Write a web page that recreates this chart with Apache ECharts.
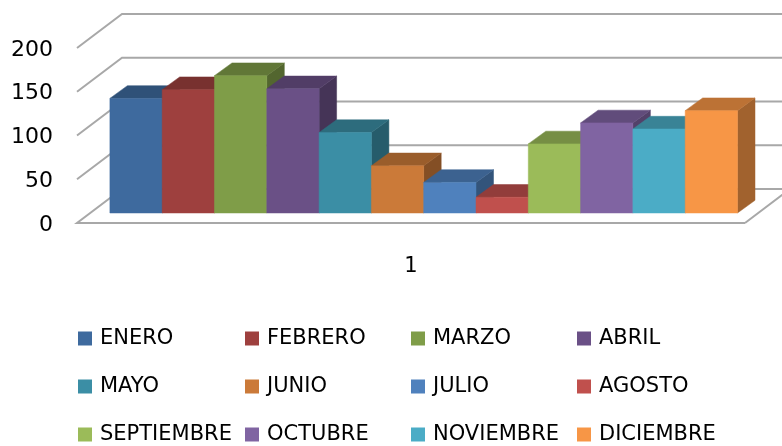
<!DOCTYPE html>
<html lang="es">
<head>
    <meta charset="UTF-8">
    <title>Meses</title>
    <script src="https://cdn.jsdelivr.net/npm/echarts@6/dist/echarts.min.js"></script>
    <style>html,body{margin:0;padding:0;background:#fff}</style>
</head>
<body>
    <div id="main" style="width:782px;height:446px;"></div>
    <script type="text/javascript">
        var categories = ['1'];
        var months = ['ENERO','FEBRERO','MARZO','ABRIL','MAYO','JUNIO','JULIO','AGOSTO','SEPTIEMBRE','OCTUBRE','NOVIEMBRE','DICIEMBRE'];
        var values = [131, 141, 157, 142, 92, 54, 35, 18, 79, 103, 96, 117];
        var colors = ['#3E6A9E','#9E403E','#7F9D48','#6A5086','#3B8EA5','#CB7A39','#4F81BD','#C0504D','#9BBB59','#8064A2','#4BACC6','#F79646'];
        var yTicks = [0, 50, 100, 150, 200];

        var fontName = 'DejaVu Sans';
        // fake 3d: depth of the floor and of the bars, in pixels
        var wallDx = 45, wallDy = 34;
        var barDx = 17.5, barDy = 12.7;
        var barShiftX = 12.7, barShiftY = 10;
        var barW = 52.3;

        function shade(hex, k) {
            var n = parseInt(hex.slice(1), 16);
            var r = Math.round((n >> 16) * k), g = Math.round(((n >> 8) & 255) * k), b = Math.round((n & 255) * k);
            return 'rgb(' + r + ',' + g + ',' + b + ')';
        }

        function poly(pts, fill) {
            return {type: 'polygon', shape: {points: pts}, style: {fill: fill, stroke: fill, lineWidth: 0.5}};
        }

        function renderWall(params, api) {
            var p = api.coord([0, api.value(0)]);
            var size = api.size([1, 0]);
            var left = p[0] - size[0] / 2;
            var right = p[0] + size[0] / 2;
            var y = p[1];
            var pts = [[left, y], [left + wallDx, y - wallDy], [right + wallDx, y - wallDy]];
            if (api.value(0) === 0) {
                // floor: closed round the front edge
                pts = [[right, y], [left, y], [left + wallDx, y - wallDy], [right + wallDx, y - wallDy], [right, y]];
            }
            return {
                type: 'polyline',
                shape: {points: pts},
                style: {fill: null, stroke: '#a8a8a8', lineWidth: 2}
            };
        }

        function renderBar(params, api) {
            var idx = params.seriesIndex - 1;
            var c = api.coord([api.value(0), api.value(1)]);
            var base = api.coord([api.value(0), 0]);
            var x0 = c[0] + barShiftX + (idx - months.length / 2) * barW;
            var x1 = x0 + barW;
            var top = c[1] - barShiftY;
            var bottom = base[1] - barShiftY;
            var col = colors[idx];
            return {
                type: 'group',
                children: [
                    poly([[x1, bottom], [x1 + barDx, bottom - barDy], [x1 + barDx, top - barDy], [x1, top]], shade(col, 0.65)),
                    poly([[x0, top], [x0 + barDx, top - barDy], [x1 + barDx, top - barDy], [x1, top]], shade(col, 0.76)),
                    poly([[x0, bottom], [x1, bottom], [x1, top], [x0, top]], col)
                ]
            };
        }

        var series = [{
            type: 'custom',
            name: 'walls',
            silent: true,
            renderItem: renderWall,
            encode: {y: 0},
            data: yTicks.map(function (t) { return [t]; })
        }];
        months.forEach(function (m, i) {
            series.push({
                type: 'custom',
                name: m,
                renderItem: renderBar,
                itemStyle: {color: colors[i]},
                encode: {x: 0, y: 1},
                data: [[0, values[i]]]
            });
        });

        // four legend columns, three rows
        var legendLeft = [78, 245, 411, 577];
        var legends = legendLeft.map(function (left, col) {
            return {
                orient: 'vertical',
                left: left,
                top: 328,
                height: 400,
                icon: 'rect',
                itemWidth: 14,
                itemHeight: 14,
                itemGap: 27,
                padding: 0,
                selectedMode: false,
                textStyle: {fontFamily: fontName, fontSize: 21, color: '#000', lineHeight: 18, padding: [0, 0, 0, 3]},
                data: months.filter(function (m, i) { return i % 4 === col; })
            };
        });

        var myChart = echarts.init(document.getElementById('main'));
        myChart.setOption({
            animation: false,
            legend: legends,
            grid: {left: 77, top: 48, width: 668, height: 175},
            xAxis: {
                type: 'category',
                data: categories,
                axisLine: {show: false},
                axisTick: {show: false},
                axisLabel: {margin: 33, fontFamily: fontName, fontSize: 21, color: '#000'}
            },
            yAxis: {
                type: 'value',
                min: 0,
                max: 200,
                interval: 50,
                axisLine: {show: false},
                axisTick: {show: false},
                splitLine: {show: false},
                axisLabel: {margin: 24, fontFamily: fontName, fontSize: 22, color: '#000', verticalAlign: 'top', lineHeight: 4}
            },
            series: series
        });
    </script>
</body>
</html>
